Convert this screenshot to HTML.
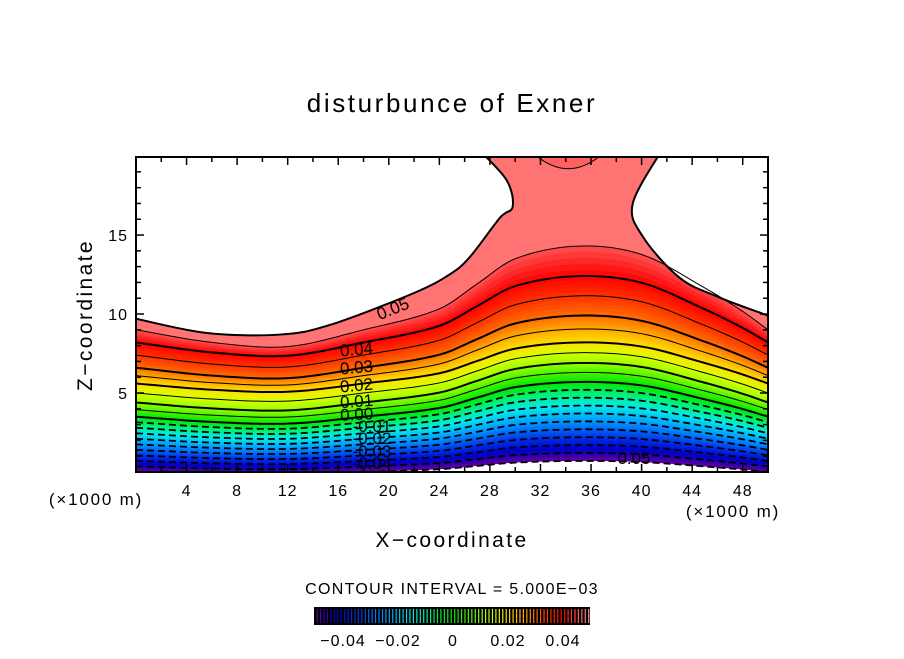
<!DOCTYPE html>
<html><head><meta charset="utf-8"><style>
body{margin:0;background:#fff;width:904px;height:654px;overflow:hidden}
svg text{font-family:"Liberation Sans",sans-serif;fill:#000}
</style></head><body>
<svg id="chart" width="904" height="654" viewBox="0 0 904 654" xmlns="http://www.w3.org/2000/svg">
<defs><clipPath id="clip"><rect x="136" y="157" width="632" height="315"/></clipPath></defs>
<text x="452" y="112" font-size="26" text-anchor="middle" letter-spacing="2.6">disturbunce of Exner</text>
<g id="plot" clip-path="url(#clip)"></g>
<g id="lines" clip-path="url(#clip)"></g>
<g id="labels"></g>
<rect x="136" y="157" width="632" height="315" fill="none" stroke="#000" stroke-width="2"/>
<g id="ticks"></g>
<text x="96" y="505" font-size="17" text-anchor="middle" letter-spacing="1.8">(×1000 m)</text>
<text x="733" y="517" font-size="17" text-anchor="middle" letter-spacing="1.8">(×1000 m)</text>
<text x="452" y="547" font-size="21" text-anchor="middle" letter-spacing="2.4">X−coordinate</text>
<text transform="translate(92,315) rotate(-90)" font-size="21" text-anchor="middle" letter-spacing="2.4">Z−coordinate</text>
<text x="452" y="594" font-size="16" text-anchor="middle" letter-spacing="1.3">CONTOUR INTERVAL = 5.000E−03</text>
<g id="cbar"></g>
</svg>
<script>
// contour levels (0.01 steps plus 0.045) and their heights (km)
const levels = [-0.05,-0.04,-0.03,-0.02,-0.01,0,0.01,0.02,0.03,0.04,0.045];
const heightsLeft = [0.0,0.7,1.4,2.1,2.8,3.5,4.4,5.6,6.6,8.2,9.0];
const heightsPeak = [0.7,1.7,2.7,3.7,4.7,5.7,6.9,8.2,9.9,12.4,14.3];
// horizontal shape of the hump
const shapeX = [0,6,12,18,24,27,30,35,40,45,48,50];
const shapeS = [0,-0.15,-0.2,0,0.25,0.55,0.85,1,0.9,0.5,0.22,0];
// 0.05 contour (outer boundary of coloured region)
const leftBranchX = [0,5.6,11.4,15.3,21.9,24.8,26.4,28.8,29.8,29.3,27];
const leftBranchZ = [9.7,8.8,8.7,9.3,11.3,12.5,13.6,16.1,16.8,18.5,20.5];
const rightBranchX = [41.7,39.3,40.1,43,46,50];
const rightBranchZ = [20.5,17,14.9,12.3,11.1,9.9];
const xTicks = [4,8,12,16,20,24,28,32,36,40,44,48];
const yTicks = [5,10,15];
const cbarTicks = [-0.04,-0.02,0,0.02,0.04];
const cbarTickLabels = ["−0.04","−0.02","0","0.02","0.04"];

const X0=136,X1=768,Y0=472,Y1=157;
const sx = x => X0 + x/50*(X1-X0);
const sz = z => Y0 - z/19.94*(Y0-Y1);
function interp(xs,ys,x){ if(x<=xs[0])return ys[0]; for(let i=1;i<xs.length;i++){ if(x<=xs[i]){const t=(x-xs[i-1])/(xs[i]-xs[i-1]);return ys[i-1]+t*(ys[i]-ys[i-1]);}} return ys[ys.length-1]; }
function cinterp(xs,ys,x){
  const n=xs.length; if(x<=xs[0])return ys[0]; if(x>=xs[n-1])return ys[n-1];
  let i=1; while(x>xs[i])i++;
  const x0=xs[i-1],x1=xs[i],y0=ys[i-1],y1=ys[i],h=x1-x0,t=(x-x0)/h;
  const m0 = i-2>=0 ? (y1-ys[i-2])/(x1-xs[i-2]) : (y1-y0)/h;
  const m1 = i+1<n ? (ys[i+1]-y0)/(xs[i+1]-x0) : (y1-y0)/h;
  const t2=t*t,t3=t2*t;
  return (2*t3-3*t2+1)*y0+(t3-2*t2+t)*h*m0+(-2*t3+3*t2)*y1+(t3-t2)*h*m1;
}
function H(v,x){ const l=interp(levels,heightsLeft,v), p=interp(levels,heightsPeak,v); return l+cinterp(shapeX,shapeS,x)*(p-l); }
function smoothPath(px,pz,start){
  const P=px.map((x,i)=>[sx(x),sz(pz[i])]);
  let d=(start||'M')+P[0][0]+','+P[0][1];
  for(let i=0;i<P.length-1;i++){
    const p0=P[Math.max(0,i-1)],p1=P[i],p2=P[i+1],p3=P[Math.min(P.length-1,i+2)];
    const c1=[p1[0]+(p2[0]-p0[0])/6,p1[1]+(p2[1]-p0[1])/6], c2=[p2[0]-(p3[0]-p1[0])/6,p2[1]-(p3[1]-p1[1])/6];
    d+=' C'+c1.join(',')+' '+c2.join(',')+' '+p2.join(',');
  }
  return d;
}
const cStops=[[-0.05,[110,0,160]],[-0.046,[40,0,175]],[-0.042,[0,0,200]],[-0.035,[0,50,230]],[-0.025,[0,150,255]],[-0.015,[0,235,235]],[-0.008,[0,240,130]],[-0.003,[0,235,40]],[0,[0,232,0]],[0.01,[150,255,0]],[0.015,[215,255,0]],[0.02,[255,225,0]],[0.025,[255,170,0]],[0.03,[255,110,0]],[0.035,[255,50,0]],[0.04,[255,0,0]],[0.045,[255,80,80]],[0.05,[255,150,150]]];
function color(v){ for(let i=1;i<cStops.length;i++){ if(v<=cStops[i][0]){const a=cStops[i-1],b=cStops[i];const t=Math.max(0,(v-a[0])/(b[0]-a[0]));return 'rgb('+a[1].map((c,k)=>Math.round(c+t*(b[1][k]-c))).join(',')+')';}} return 'rgb(255,150,150)'; }
const NS='http://www.w3.org/2000/svg';
function mk(tag,attrs,parent){const e=document.createElementNS(NS,tag);for(const k in attrs)e.setAttribute(k,attrs[k]);parent.appendChild(e);return e;}
const plot=document.getElementById('plot'), lines=document.getElementById('lines');
const xs=[];for(let x=0;x<=50.001;x+=0.5)xs.push(x);
const leftD=smoothPath(leftBranchX,leftBranchZ);
const rightD=smoothPath(rightBranchX,rightBranchZ);
let d=leftD+' L'+sx(rightBranchX[0])+','+sz(rightBranchZ[0])+smoothPath(rightBranchX,rightBranchZ,' L').replace(/^ L[^ ]+/,'')+' L'+sx(50)+','+sz(-1)+' L'+sx(0)+','+sz(-1)+' Z';
let pe=mk('path',{d:d,fill:color(0.0485),stroke:color(0.0495),'stroke-width':14,'stroke-linejoin':'round'},plot);


let pe2=mk('path',{d:d,fill:color(0.0475)},plot);


// redraw outer clipping: white outside boundary is handled by stroke being inside only
let pocket=mk('path',{d:'M'+sx(31.7)+','+sz(20)+' Q'+sx(34.2)+','+sz(18.4)+' '+sx(36.7)+','+sz(20)+' Z',fill:color(0.0462)},plot);


const step=0.001;
for(let v=0.045;v>=-0.0501;v-=step){
  let p='M'+sx(0)+','+sz(-1);
  xs.forEach(x=>p+=' L'+sx(x)+','+sz(H(v,x)).toFixed(2));
  p+=' L'+sx(50)+','+sz(-1)+' Z';
  const b=mk('path',{d:p,fill:color(v-step/2)},plot);
  
  
}
{let p='M'+sx(0)+','+sz(-1);xs.forEach(x=>p+=' L'+sx(x)+','+sz(H(-0.05,x)).toFixed(2));p+=' L'+sx(50)+','+sz(-1)+' Z';
const w=mk('path',{d:p,fill:'#fff'},plot);

}
// white mask outside 0.05 boundary (covers outward half of the stroke)
{const m=mk('path',{d:leftD+' L'+sx(0)+','+sz(21)+' Z',fill:'#fff'},plot);


const m2=mk('path',{d:rightD+' L'+sx(50)+','+sz(21)+' Z',fill:'#fff'},plot);

}
for(let i=-10;i<=9;i++){
  const v=i*0.005;
  let p='';xs.forEach((x,j)=>p+=(j?' L':'M')+sx(x)+','+sz(H(v,x)).toFixed(2));
  const attrs={d:p,fill:'none',stroke:'#000'};
  if(i<0){attrs['stroke-width']=1.8;attrs['stroke-dasharray']='7,4';}
  else if(i%2===0){attrs['stroke-width']=2;}
  else attrs['stroke-width']=1;
  const l=mk('path',attrs,lines);
  
  
}
{const a=mk('path',{d:leftD+' '+rightD,fill:'none',stroke:'#000','stroke-width':2},lines);


const b=mk('path',{d:'M'+sx(31.7)+','+sz(20)+' Q'+sx(34.2)+','+sz(18.4)+' '+sx(36.7)+','+sz(20),fill:'none',stroke:'#000','stroke-width':1},lines);

}
const lab=document.getElementById('labels');
const labs=[["0.05",395,314,-22],["0.04",357,355,-5],["0.03",357,373,-5],["0.02",357,391,-5],["0.01",357,407,-4],["0.00",357,420,-3],["-0.01",372,432,0],["-0.02",372,444,0],["-0.03",372,457,0],["-0.04",372,469,0],["0.05",634,464,0]];
labs.forEach(a=>{const t=mk('text',{x:a[1],y:a[2],'font-size':17,'text-anchor':'middle',transform:'rotate('+a[3]+' '+a[1]+' '+a[2]+')'},lab);t.textContent=a[0];

});
const tk=document.getElementById('ticks');
for(let x=2;x<50;x+=2){const L=(x%4===0)?8:5;
 mk('line',{x1:sx(x),x2:sx(x),y1:Y0,y2:Y0-L,stroke:'#000','stroke-width':1.5},tk);
 mk('line',{x1:sx(x),x2:sx(x),y1:Y1,y2:Y1+L,stroke:'#000','stroke-width':1.5},tk);}
for(let z=1;z<20;z++){const L=(z%5===0)?8:5;
 mk('line',{x1:X0,x2:X0+L,y1:sz(z),y2:sz(z),stroke:'#000','stroke-width':1.5},tk);
 mk('line',{x1:X1,x2:X1-L,y1:sz(z),y2:sz(z),stroke:'#000','stroke-width':1.5},tk);}
xTicks.forEach(x=>{const t=mk('text',{x:sx(x),y:496,'font-size':16,'text-anchor':'middle','letter-spacing':1},tk);t.textContent=x;

});
yTicks.forEach(z=>{const t=mk('text',{x:128,y:sz(z)+6,'font-size':16,'text-anchor':'end','letter-spacing':1},tk);t.textContent=z;

});
const cb=document.getElementById('cbar');
const cx=v=>315.5+(v+0.05)/0.1*275;
const bg=mk('rect',{x:314,y:607,width:276,height:18,fill:'#000'},cb);


for(let v=-0.0494;v<0.05;v+=0.00125){mk('line',{x1:cx(v),x2:cx(v),y1:609,y2:623,stroke:color(v),'stroke-width':1.2},cb);}
cbarTicks.forEach((v,i)=>{const t=mk('text',{x:cx(v),y:646,'font-size':16,'text-anchor':'middle','letter-spacing':1},cb);t.textContent=cbarTickLabels[i];

});
</script>
</body></html>
